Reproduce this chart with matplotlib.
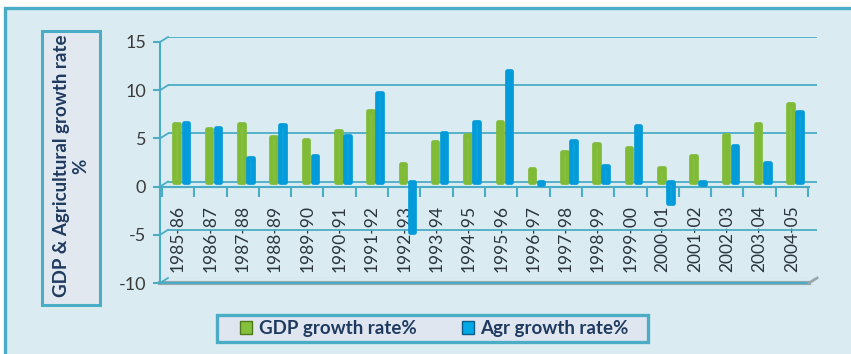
import matplotlib
matplotlib.use('Agg')
import matplotlib.pyplot as plt
from matplotlib.patches import Rectangle, Patch
from matplotlib.lines import Line2D
import numpy as np

# data
years = ['1985-86', '1986-87', '1987-88', '1988-89', '1989-90', '1990-91', '1991-92',
         '1992-93', '1993-94', '1994-95', '1995-96', '1996-97', '1997-98', '1998-99',
         '1999-00', '2000-01', '2001-02', '2002-03', '2003-04', '2004-05']
gdp_growth = [6.0, 5.5, 6.0, 4.6, 4.3, 5.3, 7.3, 1.8, 4.1, 4.8,
              6.2, 1.3, 3.1, 3.9, 3.5, 1.4, 2.7, 4.8, 6.0, 8.0]
agr_growth = [6.1, 5.6, 2.4, 5.9, 2.7, 4.7, 9.2, -5.2, 5.0, 6.2,
              11.5, -0.2, 4.2, 1.6, 5.8, -2.2, -0.2, 3.7, 1.9, 7.2]
yticks = [-10, -5, 0, 5, 10, 15]

teal = '#4bacc6'
panel_bg = '#daecf2'
navy = '#1f3a5f'
plt.rcParams['font.family'] = ['Lato', 'DejaVu Sans']

W, H = 851, 354
fig = plt.figure(figsize=(W / 100, H / 100), dpi=100)


def fbox(x0, y0, x1, y1):
    # pixel box (top-left origin) -> figure fraction rect
    return [x0 / W, 1 - y1 / H, (x1 - x0) / W, (y1 - y0) / H]


# outer panel
fig.patches.append(Rectangle((5 / W, -0.2), 1.2, 1.2 - 8 / H, transform=fig.transFigure,
                             facecolor=panel_bg, edgecolor=teal, lw=2.4, zorder=0))

# y label box
yb = fbox(42, 31, 100, 305)
fig.patches.append(Rectangle((yb[0], yb[1]), yb[2], yb[3], transform=fig.transFigure,
                             facecolor='#e1e8f0', edgecolor=teal, lw=2.2, zorder=1))
fig.text(yb[0] + yb[2] / 2, yb[1] + yb[3] / 2 + 2 / H, 'GDP & Agricultural growth rate\n%',
         rotation=90, ha='center', va='center', multialignment='center',
         fontsize=13.5, fontweight='bold', color=navy, linespacing=1.15)

xlim = (-0.56, 19.53)
ylim = (-10, 15)
x = np.arange(len(years))

# front axes: y axis, category axis at zero, floor edge
axf = fig.add_axes(fbox(160, 42, 809, 283))
axf.set_zorder(1)
axf.patch.set_visible(False)
axf.set_xlim(*xlim)
axf.set_ylim(*ylim)
for s in ['top', 'right']:
    axf.spines[s].set_visible(False)
axf.spines['left'].set_color(teal)
axf.spines['left'].set_linewidth(1.5)
axf.spines['bottom'].set_position(('data', 0))
axf.spines['bottom'].set_color(teal)
axf.spines['bottom'].set_linewidth(1.5)
axf.set_yticks(yticks)
axf.set_yticklabels([str(v) for v in yticks])
axf.tick_params(axis='y', colors=teal, length=5, width=1.5, labelsize=13,
                labelcolor='#3a3a3a', pad=5)
axf.set_xticks(np.arange(len(years) + 1) - 0.5)
axf.set_xticklabels([])
axf.set_xticks(x, minor=True)
axf.set_xticklabels(years, minor=True, rotation=90, fontsize=12.5, color='#2b3340')
axf.tick_params(axis='x', which='major', colors=teal, length=7, width=1.5, direction='out')
axf.tick_params(axis='x', which='minor', length=0, pad=13.5)
for lab in axf.get_xticklabels(minor=True):
    lab.set_va('top')
axf.axhline(-10, xmin=0, xmax=1, color='#9aa5ad', lw=3, zorder=1, clip_on=False)
axf.axhline(-10, xmin=0, xmax=1, color=teal, lw=1.5, zorder=2, clip_on=False)

# back wall axes: gridlines and bars
ax = fig.add_axes(fbox(168, 37, 817, 278))
ax.set_zorder(2)
ax.patch.set_visible(False)
ax.set_xlim(*xlim)
ax.set_ylim(*ylim)
for s in ax.spines.values():
    s.set_visible(False)
ax.set_xticks([])
ax.set_yticks([])
for v in yticks[1:]:
    ax.axhline(v, color=teal, lw=1.3, zorder=1)
ax.axhline(-10, color='#c9dde6', lw=1.0, zorder=1)

# thin bars with a thick round-joined edge -> rounded "cylinder" look
w = 0.14
ax.bar(x - 0.29, gdp_growth, width=w, color='#a6d95e', edgecolor='#80bb38',
       lw=3.4, joinstyle='round', zorder=3)
ax.bar(x - 0.01, agr_growth, width=w, color='#3fc6f6', edgecolor='#039bd9',
       lw=3.4, joinstyle='round', zorder=3)

# small diagonal connectors from front ticks to back wall
inv = fig.transFigure.inverted()
for v in yticks:
    p0 = inv.transform(axf.transData.transform((xlim[0], v)))
    p1 = inv.transform(ax.transData.transform((xlim[0], v)))
    fig.add_artist(Line2D([p0[0], p1[0]], [p0[1], p1[1]], transform=fig.transFigure,
                          color=teal, lw=1.3))
p0 = inv.transform(axf.transData.transform((xlim[1], -10)))
p1 = inv.transform(ax.transData.transform((xlim[1], -10)))
fig.add_artist(Line2D([p0[0], p1[0]], [p0[1], p1[1]], transform=fig.transFigure,
                      color='#9aa5ad', lw=2))

# legend box + entries
lb = fbox(217, 315, 648, 342)
fig.patches.append(Rectangle((lb[0], lb[1]), lb[2], lb[3], transform=fig.transFigure,
                             facecolor='#dfe6f0', edgecolor=teal, lw=2.4, zorder=1))
handles = [Patch(facecolor='#86c13b', edgecolor='#4d7a1e', label='GDP growth rate%'),
           Patch(facecolor='#00a9e6', edgecolor='#0a5f8a', label='Agr growth rate%')]
leg = fig.legend(handles=handles, loc='center', ncol=2,
                 bbox_to_anchor=(lb[0] + lb[2] / 2 + 2 / W, lb[1] + lb[3] / 2),
                 frameon=False, fontsize=13.5, handlelength=0.65,
                 handleheight=0.65, handletextpad=0.35, columnspacing=2.4,
                 borderpad=0, borderaxespad=0)
for t in leg.get_texts():
    t.set_color(navy)
    t.set_fontweight('bold')

fig.savefig('out.png', dpi=100, facecolor='white')
